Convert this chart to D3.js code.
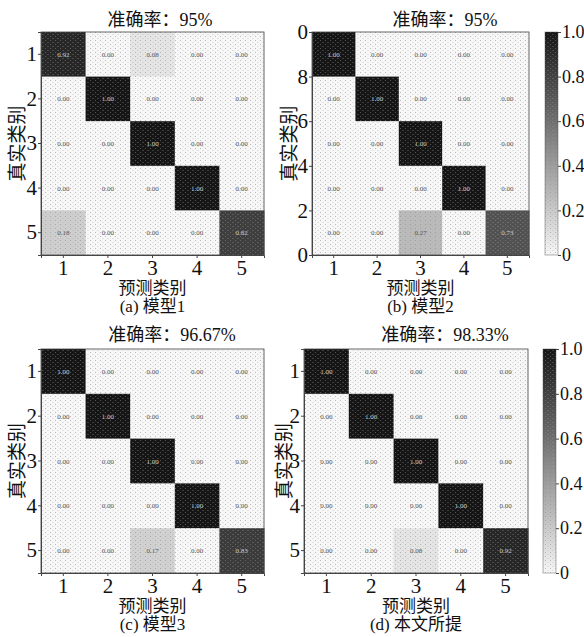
<!DOCTYPE html>
<html>
<head>
<meta charset="utf-8">
<script src="https://cdn.jsdelivr.net/npm/d3@7"></script>
<style>
  body { margin: 0; background: #fff; }
  text { font-family: "Liberation Serif", "Noto Sans CJK SC", serif; fill: #111; }
</style>
</head>
<body>
<div id="chart"></div>
<script>
// class labels and confusion matrices (rows = true class, cols = predicted)
var classes = ["1", "2", "3", "4", "5"];
var matA = [
  [0.92, 0.00, 0.08, 0.00, 0.00],
  [0.00, 1.00, 0.00, 0.00, 0.00],
  [0.00, 0.00, 1.00, 0.00, 0.00],
  [0.00, 0.00, 0.00, 1.00, 0.00],
  [0.18, 0.00, 0.00, 0.00, 0.82]
];
var matB = [
  [1.00, 0.00, 0.00, 0.00, 0.00],
  [0.00, 1.00, 0.00, 0.00, 0.00],
  [0.00, 0.00, 1.00, 0.00, 0.00],
  [0.00, 0.00, 0.00, 1.00, 0.00],
  [0.00, 0.00, 0.27, 0.00, 0.73]
];
var matC = [
  [1.00, 0.00, 0.00, 0.00, 0.00],
  [0.00, 1.00, 0.00, 0.00, 0.00],
  [0.00, 0.00, 1.00, 0.00, 0.00],
  [0.00, 0.00, 0.00, 1.00, 0.00],
  [0.00, 0.00, 0.17, 0.00, 0.83]
];
var matD = [
  [1.00, 0.00, 0.00, 0.00, 0.00],
  [0.00, 1.00, 0.00, 0.00, 0.00],
  [0.00, 0.00, 1.00, 0.00, 0.00],
  [0.00, 0.00, 0.00, 1.00, 0.00],
  [0.00, 0.00, 0.08, 0.00, 0.92]
];
var titles = ["准确率：95%", "准确率：95%", "准确率：96.67%", "准确率：98.33%"];
var captions = ["(a) 模型1", "(b) 模型2", "(c) 模型3", "(d) 本文所提"];
// panel (b) has odd y tick labels (bottom to top)
var bYTicks = ["0", "2", "4", "6", "8", "0"];
var cbTicks = [0, 0.2, 0.4, 0.6, 0.8, 1.0];
var cbLabels = ["0", "0.2", "0.4", "0.6", "0.8", "1.0"];

var W = 584, H = 637;
var svg = d3.select("#chart").append("svg")
  .attr("width", W).attr("height", H);

// scanned stipple texture
var defs = svg.append("defs");
var pat = defs.append("pattern")
  .attr("id", "dots").attr("width", 5).attr("height", 4)
  .attr("patternUnits", "userSpaceOnUse");
pat.append("rect").attr("x", 0).attr("y", 0).attr("width", 1).attr("height", 1).attr("fill", "#888");
pat.append("rect").attr("x", 2.5).attr("y", 2).attr("width", 1).attr("height", 1).attr("fill", "#aaa");

var grad = defs.append("linearGradient")
  .attr("id", "cbgrad").attr("x1", 0).attr("y1", 1).attr("x2", 0).attr("y2", 0);

var color = d3.scaleSequential(d3.interpolateRgb("#f7f7f7", "#151515")).domain([0, 1]);

d3.range(0, 1.01, 0.1).forEach(function(t) {
  grad.append("stop").attr("offset", t).attr("stop-color", color(t));
});

var panels = [
  {m: matA, x0: 41, x1: 264, y0: 32, y1: 255, tx: 160, ty: 26, lx: 17, odd: false, cb: false},
  {m: matB, x0: 312, x1: 529, y0: 32, y1: 255, tx: 445, ty: 26, lx: 289, odd: true, cb: true, cbx: 545},
  {m: matC, x0: 41, x1: 264, y0: 349, y1: 573, tx: 172, ty: 341, lx: 17, odd: false, cb: false},
  {m: matD, x0: 304, x1: 528, y0: 349, y1: 573, tx: 445, ty: 341, lx: 284, odd: false, cb: true, cbx: 543}
];

panels.forEach(function(p, i) {
  var g = svg.append("g");
  var x = d3.scaleBand().domain(classes).range([p.x0, p.x1]);
  var y = d3.scaleBand().domain(classes).range([p.y0, p.y1]);

  var cells = [];
  p.m.forEach(function(row, r) {
    row.forEach(function(v, c) {
      cells.push({r: classes[r], c: classes[c], v: v});
    });
  });

  g.selectAll("rect.cell").data(cells).enter().append("rect")
    .attr("class", "cell")
    .attr("x", function(d) { return x(d.c); })
    .attr("y", function(d) { return y(d.r); })
    .attr("width", x.bandwidth() + 0.5)
    .attr("height", y.bandwidth() + 0.5)
    .attr("fill", function(d) { return color(d.v); });

  g.append("rect")
    .attr("x", p.x0).attr("y", p.y0)
    .attr("width", p.x1 - p.x0).attr("height", p.y1 - p.y0)
    .attr("fill", "url(#dots)").attr("opacity", 0.55);

  g.selectAll("text.val").data(cells).enter().append("text")
    .attr("class", "val")
    .attr("x", function(d) { return x(d.c) + x.bandwidth() / 2; })
    .attr("y", function(d) { return y(d.r) + y.bandwidth() / 2 + 2.5; })
    .attr("text-anchor", "middle")
    .style("font-size", "7px")
    .style("fill", function(d) { return d.v > 0.5 ? "#ccc" : "#555"; })
    .text(function(d) { return d.v.toFixed(2); });

  g.append("rect")
    .attr("x", p.x0).attr("y", p.y0)
    .attr("width", p.x1 - p.x0).attr("height", p.y1 - p.y0)
    .attr("fill", "none").attr("stroke", "#444").attr("stroke-width", 0.8);

  var xa = g.append("g")
    .attr("transform", "translate(0," + p.y1 + ")")
    .call(d3.axisBottom(x).tickSize(3).tickPadding(2));
  xa.selectAll("text").style("font-size", "21px");

  var ya;
  if (p.odd) {
    var yl = d3.scaleLinear().domain([0, 1]).range([p.y1, p.y0]);
    ya = g.append("g")
      .attr("transform", "translate(" + p.x0 + ",0)")
      .call(d3.axisLeft(yl).tickValues(cbTicks).tickSize(3).tickPadding(1)
        .tickFormat(function(d, k) { return bYTicks[k]; }));
  } else {
    ya = g.append("g")
      .attr("transform", "translate(" + p.x0 + ",0)")
      .call(d3.axisLeft(y).tickSize(3).tickPadding(1));
  }
  ya.selectAll("text").style("font-size", "21px");
  [xa, ya].forEach(function(a) {
    a.select(".domain").attr("stroke", "#444");
    a.selectAll("line").attr("stroke", "#444");
  });

  g.append("text")
    .attr("x", p.tx).attr("y", p.ty)
    .attr("text-anchor", "middle")
    .style("font-size", "18px")
    .text(titles[i]);

  var cx = (p.x0 + p.x1) / 2;
  g.append("text")
    .attr("x", cx).attr("y", p.y1 + 39)
    .attr("text-anchor", "middle")
    .style("font-size", "17px")
    .text("预测类别");
  g.append("text")
    .attr("x", cx).attr("y", p.y1 + 57)
    .attr("text-anchor", "middle")
    .style("font-size", "17px")
    .text(captions[i]);

  var cy = (p.y0 + p.y1) / 2;
  g.append("text")
    .attr("transform", "translate(" + (p.lx + 7) + "," + cy + ") rotate(-90)")
    .attr("text-anchor", "middle")
    .style("font-size", "19px")
    .text("真实类别");

  if (p.cb) {
    var cs = d3.scaleLinear().domain([0, 1]).range([p.y1, p.y0]);
    g.append("rect")
      .attr("x", p.cbx).attr("y", p.y0)
      .attr("width", 13).attr("height", p.y1 - p.y0)
      .attr("fill", "url(#cbgrad)");
    g.append("rect")
      .attr("x", p.cbx).attr("y", p.y0)
      .attr("width", 13).attr("height", p.y1 - p.y0)
      .attr("fill", "url(#dots)").attr("opacity", 0.5)
      .attr("stroke", "#444").attr("stroke-width", 0.8);
    var ca = g.append("g")
      .attr("transform", "translate(" + (p.cbx + 13) + ",0)")
      .call(d3.axisRight(cs).tickValues(cbTicks).tickSize(3).tickPadding(1)
        .tickFormat(function(d, k) { return cbLabels[k]; }));
    ca.select(".domain").remove();
    ca.selectAll("line").attr("stroke", "#444");
    ca.selectAll("text").style("font-size", "18px");
  }
});
</script>
</body>
</html>
